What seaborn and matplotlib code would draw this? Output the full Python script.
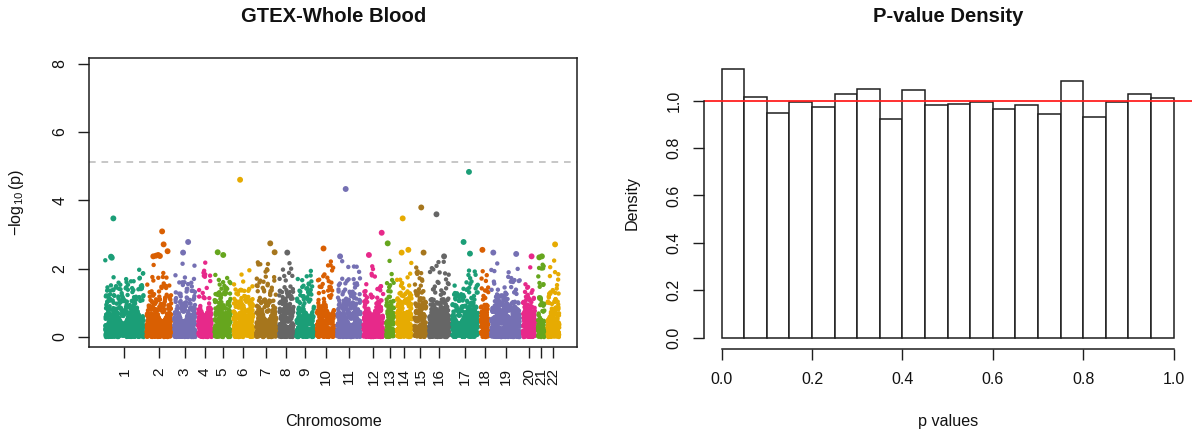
import numpy as np
import pandas as pd
import matplotlib
matplotlib.use("Agg")
import matplotlib.pyplot as plt
import seaborn as sns

# ---------------------------------------------------------------- data
chromosomes = [str(i) for i in range(1, 23)]
genes_per_chrom = [690, 444, 378, 240, 288, 354, 360, 258, 312, 312, 420,
                   354, 138, 264, 210, 360, 462, 132, 516, 216, 120, 210]

# strongest associations: chromosome, relative position on chromosome, -log10(p)
top_chrom = ["1", "1", "1",
             "2", "2", "2", "2", "2", "2", "2",
             "3", "3", "5", "5", "6", "7", "7", "8", "10",
             "11", "11", "12", "12", "13",
             "14", "14", "14", "15", "15", "16", "16",
             "17", "17", "17", "18", "19", "19", "20", "21", "21", "22"]
top_relpos = [0.21, 0.15, 0.17,
              0.63, 0.69, 0.85, 0.27, 0.38, 0.47, 0.54,
              0.66, 0.42, 0.19, 0.54, 0.33, 0.70, 0.92, 0.56, 0.38,
              0.12, 0.36, 0.27, 0.92, 0.18,
              0.39, 0.32, 0.78, 0.57, 0.77, 0.36, 0.74,
              0.65, 0.44, 0.69, 0.20, 0.07, 0.87, 0.72, 0.20, 0.60, 0.64]
top_logp = [3.47, 2.35, 2.32,
            3.09, 2.71, 2.51, 2.36, 2.38, 2.40, 2.37,
            2.78, 2.47, 2.48, 2.40, 4.60, 2.74, 2.48, 2.47, 2.59,
            2.36, 4.33, 2.40, 3.05, 2.74,
            3.47, 2.47, 2.55, 3.79, 2.47, 3.59, 2.36,
            4.83, 2.78, 2.44, 2.55, 2.47, 2.43, 2.36, 2.33, 2.36, 2.71]

# p-value density in 20 equal bins over [0, 1]
bin_density = [1.138, 1.015, 0.949, 0.993, 0.976, 1.025, 1.049, 0.923, 1.045, 0.983,
               0.987, 0.993, 0.966, 0.983, 0.944, 1.084, 0.933, 0.993, 1.025, 1.010]

significance_logp = 5.13
cloud_logp_ceiling = 2.25

palette_dark2 = ["#1B9E77", "#D95F02", "#7570B3", "#E7298A",
                 "#66A61E", "#E6AB02", "#A6761D", "#666666"]

# ---------------------------------------------------------------- build gene table
gap = 54
starts = np.concatenate([[0], np.cumsum(np.array(genes_per_chrom) + gap)[:-1]])
n_total = int(sum(genes_per_chrom))
n_bins = len(bin_density)
width = 1.0 / n_bins

bin_counts = np.round(np.array(bin_density) * n_total / n_bins).astype(int)
bin_counts[int(np.argmax(bin_counts))] += n_total - bin_counts.sum()

# p-values of the background genes, spread evenly inside each density bin
n_top = len(top_logp)
pool = []
for k, c in enumerate(bin_counts):
    if k == 0:
        c = c - n_top
        lo = 10 ** (-cloud_logp_ceiling)
        pool.append(lo + (np.arange(c) + 0.5) / c * (width - lo))
    else:
        pool.append(k * width + (np.arange(c) + 0.5) / c * width)
pool = np.sort(np.concatenate(pool))

top_slots = {}
for ch, rp, lp in zip(top_chrom, top_relpos, top_logp):
    ci = chromosomes.index(ch)
    j = int(round(rp * (genes_per_chrom[ci] - 1)))
    top_slots[(ci, j)] = lp

slots = []
for ci, n in enumerate(genes_per_chrom):
    for j in range(n):
        if (ci, j) not in top_slots:
            slots.append((ci, j))

# interleave the sorted background p-values along the genome
golden = (np.sqrt(5) - 1) / 2
idx = np.arange(len(slots), dtype=np.float64)
order = np.argsort(np.argsort((idx * idx * golden) % 1.0))
cloud_p = pool[order]

cloud = pd.DataFrame({
    "pos": [starts[ci] + j for ci, j in slots],
    "chrom": [chromosomes[ci] for ci, j in slots],
    "logp": -np.log10(cloud_p),
})
top = pd.DataFrame({
    "pos": [starts[ci] + j for (ci, j) in top_slots],
    "chrom": [chromosomes[ci] for (ci, j) in top_slots],
    "logp": list(top_slots.values()),
})
all_p = np.concatenate([cloud_p, 10 ** (-top["logp"].to_numpy())])

chrom_colors = {ch: palette_dark2[i % 8] for i, ch in enumerate(chromosomes)}
tick_pos = starts + (np.array(genes_per_chrom) - 1) / 2

# ---------------------------------------------------------------- style
sns.set_style("white")
plt.rcParams["font.family"] = ["Liberation Sans", "DejaVu Sans"]
plt.rcParams["mathtext.fontset"] = "custom"
plt.rcParams["mathtext.rm"] = "Liberation Sans"
plt.rcParams["mathtext.it"] = "Liberation Sans:italic"

W, H = 1194, 436
fig = plt.figure(figsize=(W / 100, H / 100), dpi=100)
ink = "#1e1e1e"

def rect(x0, y0, x1, y1):
    return [x0 / W, 1 - y1 / H, (x1 - x0) / W, (y1 - y0) / H]

# ---------------------------------------------------------------- Manhattan plot
ax1 = fig.add_axes(rect(89.3, 57.7, 577.3, 347.3))
sns.scatterplot(data=cloud, x="pos", y="logp", hue="chrom", palette=chrom_colors,
                s=10, linewidth=0, legend=False, ax=ax1)
sns.scatterplot(data=top, x="pos", y="logp", hue="chrom", palette=chrom_colors,
                s=18, linewidth=0, legend=False, ax=ax1)
ax1.axhline(significance_logp, color="#BEBEBE", lw=1.2, ls=(0, (4, 3.5)))
ax1.set_xlim(-288, 8496)
ax1.set_ylim(-0.30, 8.17)
ax1.set_yticks([0, 2, 4, 6, 8])
ax1.set_yticklabels(["0", "2", "4", "6", "8"], rotation=90, va="center")
ax1.set_xticks(tick_pos)
ax1.set_xticklabels(chromosomes, rotation=90)
ax1.tick_params(axis="both", direction="out", length=7.7, width=1.0, color=ink,
                labelsize=11.5, labelcolor="#111111", bottom=True, left=True)
ax1.tick_params(axis="x", labelsize=11)
ax1.tick_params(axis="y", pad=8)
ax1.tick_params(axis="x", pad=7)
for sp in ax1.spines.values():
    sp.set_color(ink)
    sp.set_linewidth(1.1)
ax1.set_xlabel("")
ax1.set_ylabel("")

fig.text(333.3 / W, 1 - 17 / H, "GTEX-Whole Blood", ha="center", va="center",
         fontsize=14.6, fontweight="bold", color="#111111")
fig.text(333.3 / W, 1 - 421 / H, "Chromosome", ha="center", va="center",
         fontsize=11.6, color="#111111")
fig.text(17 / W, 1 - 202.5 / H, r"$-\log_{10}(\mathrm{p})$", ha="center", va="center",
         rotation=90, fontsize=11.6, color="#111111")

# ---------------------------------------------------------------- p-value histogram
ax2 = fig.add_axes(rect(703.6, 57.0, 1191.7, 348.5))
sns.histplot(x=all_p, bins=n_bins, binrange=(0, 1), stat="density", ax=ax2,
             color="white", edgecolor=ink, linewidth=1.1, alpha=1.0)
ax2.axhline(1.0, color="#FF2020", lw=1.3)
ymax = max(bin_density)
ax2.set_xlim(-0.04, 1.04)
ax2.set_ylim(-0.04 * ymax, ymax * 1.04)
ax2.set_xticks(np.linspace(0, 1, 6))
ax2.set_xticklabels([f"{v:.1f}" for v in np.linspace(0, 1, 6)])
ax2.set_yticks(np.linspace(0, 1, 6))
ax2.set_yticklabels([f"{v:.1f}" for v in np.linspace(0, 1, 6)], rotation=90, va="center")
ax2.tick_params(axis="both", direction="out", length=7.7, width=1.0, color=ink,
                labelsize=11.5, labelcolor="#111111", bottom=True, left=True)
ax2.tick_params(axis="y", pad=8)
ax2.tick_params(axis="x", pad=9)
for name in ("top", "right"):
    ax2.spines[name].set_visible(False)
ax2.spines["left"].set_bounds(0, 1)
ax2.spines["bottom"].set_bounds(0, 1)
for name in ("left", "bottom"):
    ax2.spines[name].set_color(ink)
    ax2.spines[name].set_linewidth(1.1)
ax2.set_xlabel("")
ax2.set_ylabel("")

fig.text(947.7 / W, 1 - 17 / H, "P-value Density", ha="center", va="center",
         fontsize=14.6, fontweight="bold", color="#111111")
fig.text(947.7 / W, 1 - 421.5 / H, "p values", ha="center", va="center",
         fontsize=11.6, color="#111111")
fig.text(632 / W, 1 - 202.7 / H, "Density", ha="center", va="center",
         rotation=90, fontsize=11.6, color="#111111")

fig.savefig("out.png", dpi=100, facecolor="white")
